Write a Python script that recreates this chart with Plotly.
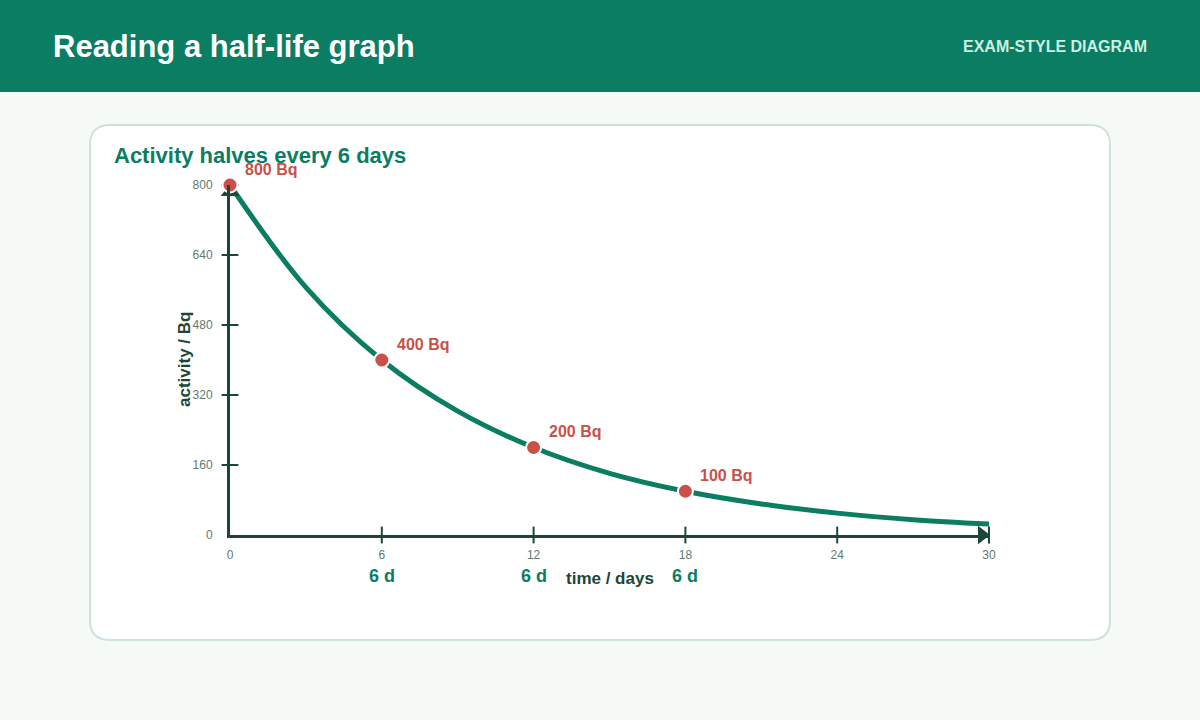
import plotly.graph_objects as go

# values
days = [0, 3, 6, 9, 12, 15, 18, 21, 24, 27, 30]
activity = [800, 566, 400, 283, 200, 141, 100, 71, 50, 35, 25]

point_days = [0, 6, 12, 18]
point_activity = [800, 400, 200, 100]
point_labels = ["800 Bq", "400 Bq", "200 Bq", "100 Bq"]

x_ticks = [0, 6, 12, 18, 24, 30]
y_ticks = [0, 160, 320, 480, 640, 800]
interval_marks = [6, 12, 18]

GREEN = "#0a7d62"
DARK = "#1c4638"
RED = "#c9514a"
GREY = "#62786f"
FONT = "Liberation Sans, Arial, sans-serif"

W, H = 1200, 720
L, R, T, B = 230, 989, 185, 535  # plot area in pixels


def px(x):
    return (x - L) / (R - L)


def py(y):
    return (B - y) / (B - T)


def rounded_rect(x0, y0, x1, y1, r):
    pts = [
        f"M {px(x0 + r)} {py(y0)}",
        f"L {px(x1 - r)} {py(y0)}",
        f"Q {px(x1)} {py(y0)} {px(x1)} {py(y0 + r)}",
        f"L {px(x1)} {py(y1 - r)}",
        f"Q {px(x1)} {py(y1)} {px(x1 - r)} {py(y1)}",
        f"L {px(x0 + r)} {py(y1)}",
        f"Q {px(x0)} {py(y1)} {px(x0)} {py(y1 - r)}",
        f"L {px(x0)} {py(y0 + r)}",
        f"Q {px(x0)} {py(y0)} {px(x0 + r)} {py(y0)} Z",
    ]
    return " ".join(pts)


# data units per pixel, used to tuck the arrowheads inside the axis ends
x_per_px = (x_ticks[-1] - x_ticks[0]) / (R - L)
y_per_px = (y_ticks[-1] - y_ticks[0]) / (B - T)

fig = go.Figure()

# decay curve
fig.add_trace(go.Scatter(
    x=days, y=activity, mode="lines",
    line=dict(color=GREEN, width=5, shape="spline"),
    cliponaxis=False, hoverinfo="skip",
))

# tick marks crossing the axes
fig.add_trace(go.Scatter(
    x=x_ticks[1:], y=[0] * (len(x_ticks) - 1), mode="markers",
    marker=dict(symbol="line-ns-open", size=12, color=DARK,
                line=dict(color=DARK, width=2)),
    cliponaxis=False, hoverinfo="skip",
))
fig.add_trace(go.Scatter(
    x=[0] * (len(y_ticks) - 1), y=y_ticks[1:], mode="markers",
    marker=dict(symbol="line-ew-open", size=12, color=DARK,
                line=dict(color=DARK, width=2)),
    cliponaxis=False, hoverinfo="skip",
))

# arrowheads
fig.add_trace(go.Scatter(
    x=[x_ticks[-1] - 7 * x_per_px], y=[0], mode="markers",
    marker=dict(symbol="triangle-right", size=16, color=DARK),
    cliponaxis=False, hoverinfo="skip",
))
fig.add_trace(go.Scatter(
    x=[0], y=[y_ticks[-1] - 7 * y_per_px], mode="markers",
    marker=dict(symbol="triangle-up", size=16, color=DARK),
    cliponaxis=False, hoverinfo="skip",
))

# half-life points
fig.add_trace(go.Scatter(
    x=point_days, y=point_activity, mode="markers",
    marker=dict(size=15, color=RED, line=dict(color="white", width=2)),
    cliponaxis=False, hoverinfo="skip",
))

annotations = []
for d, a, t in zip(point_days, point_activity, point_labels):
    annotations.append(dict(
        x=d, y=a, text=f"<b>{t}</b>", showarrow=False,
        xanchor="left", yanchor="middle", xshift=13, yshift=16,
        font=dict(family=FONT, size=16, color=RED),
    ))

for m in interval_marks:
    annotations.append(dict(
        x=m, y=0, yref="y", text="<b>6 d</b>", showarrow=False,
        xanchor="center", yanchor="middle", yshift=-41,
        font=dict(family=FONT, size=18, color=GREEN),
    ))

annotations += [
    dict(x=15, y=0, text="<b>time / days</b>", showarrow=False,
         xanchor="center", yanchor="middle", yshift=-43,
         font=dict(family=FONT, size=17, color=DARK)),
    dict(xref="paper", yref="y", x=0, y=400, text="<b>activity / Bq</b>",
         showarrow=False, textangle=-90, xanchor="center", yanchor="middle",
         xshift=-46, font=dict(family=FONT, size=17, color=DARK)),
    dict(xref="paper", yref="paper", x=px(112), y=py(155),
         text="<b>Activity halves every 6 days</b>", showarrow=False,
         xanchor="left", yanchor="middle",
         font=dict(family=FONT, size=22, color=GREEN)),
    dict(xref="paper", yref="paper", x=px(51), y=py(47),
         text="<b>Reading a half-life graph</b>", showarrow=False,
         xanchor="left", yanchor="middle",
         font=dict(family=FONT, size=31, color="white")),
    dict(xref="paper", yref="paper", x=px(1149), y=py(47),
         text="<b>EXAM-STYLE DIAGRAM</b>", showarrow=False,
         xanchor="right", yanchor="middle",
         font=dict(family=FONT, size=16, color="#cdeee0")),
]

shapes = [
    dict(type="rect", xref="paper", yref="paper", layer="below",
         x0=px(0), x1=px(W), y0=py(0), y1=py(92),
         fillcolor=GREEN, line=dict(width=0)),
    dict(type="path", xref="paper", yref="paper", layer="below",
         path=rounded_rect(90, 125, 1110, 640, 20),
         fillcolor="white", line=dict(color="#cfe2d9", width=2)),
]

fig.update_layout(
    width=W, height=H,
    margin=dict(l=L, r=W - R, t=T, b=H - B),
    paper_bgcolor="#f6faf7", plot_bgcolor="rgba(0,0,0,0)",
    showlegend=False,
    annotations=annotations, shapes=shapes,
    font=dict(family=FONT),
)
fig.update_xaxes(
    range=[0, 30], tickvals=x_ticks, showgrid=False, zeroline=False,
    showline=True, linecolor=DARK, linewidth=3, ticks="", ticklabelstandoff=7,
    tickfont=dict(family=FONT, size=12, color=GREY), fixedrange=True,
)
fig.update_yaxes(
    range=[0, 800], tickvals=y_ticks, showgrid=False, zeroline=False,
    showline=True, linecolor=DARK, linewidth=3, ticks="", ticklabelstandoff=12,
    tickfont=dict(family=FONT, size=12, color=GREY), fixedrange=True,
)

fig.write_html(
    "out.html", config=dict(displayModeBar=False),
    post_script="document.body.style.margin='0';document.body.style.overflow='hidden';",
)
